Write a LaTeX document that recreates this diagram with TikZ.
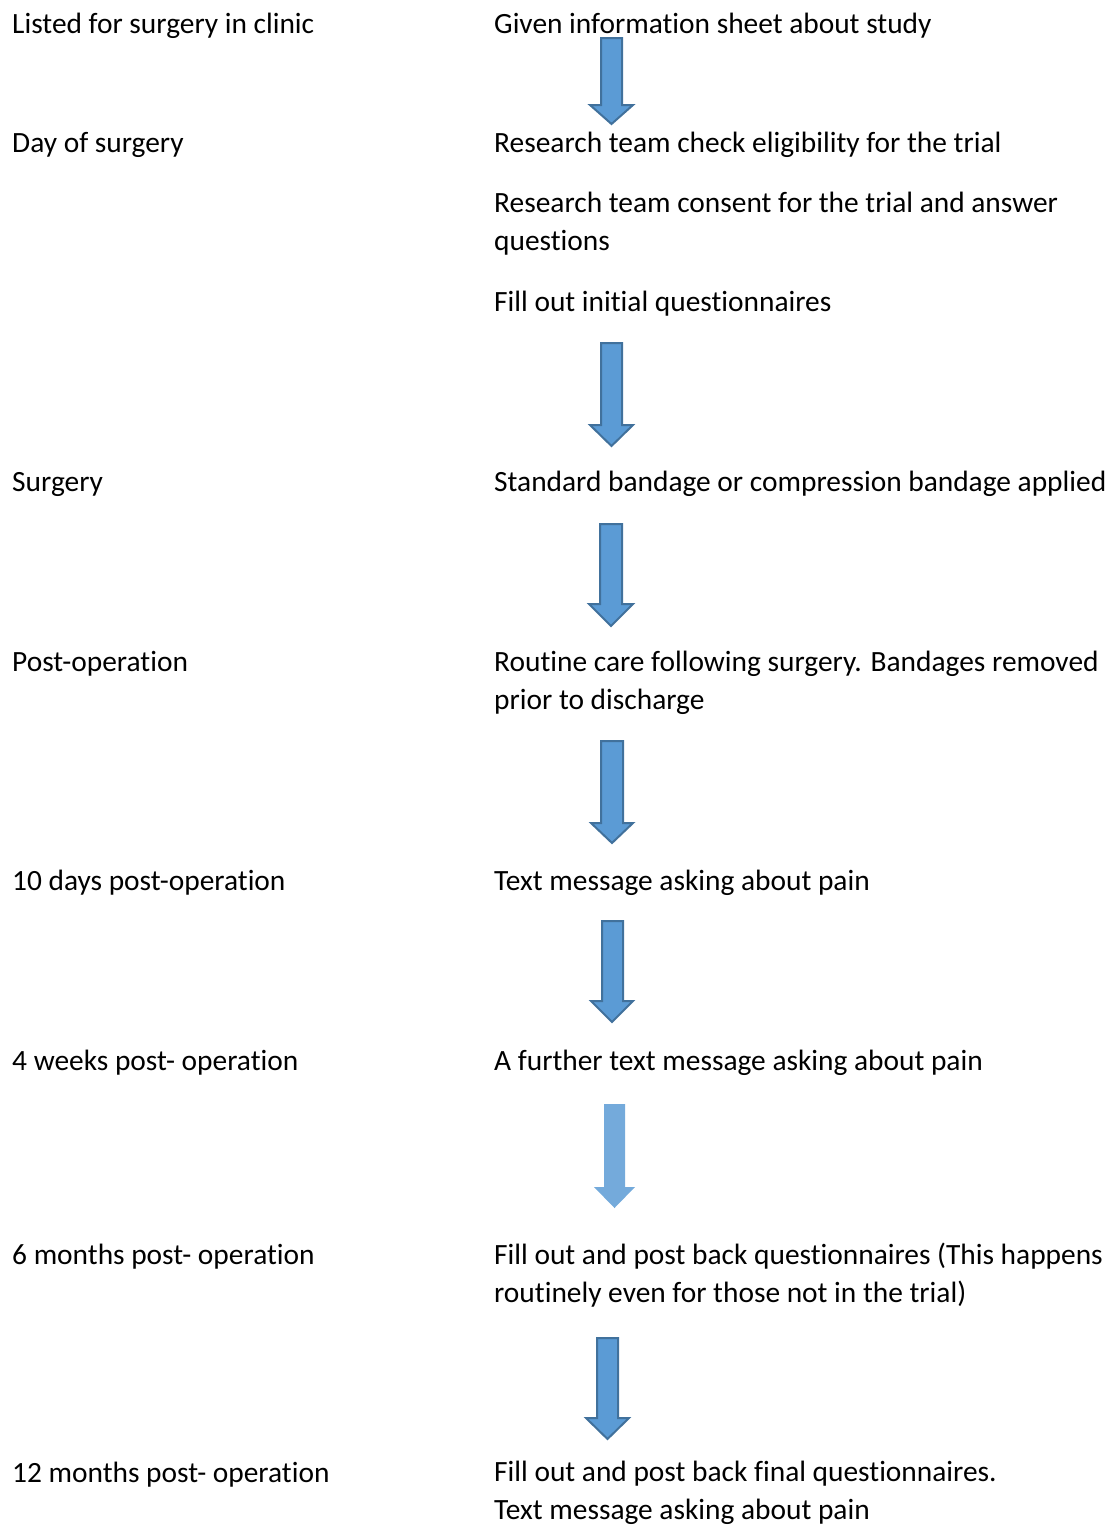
\documentclass[tikz,border=0pt]{standalone}
\usepackage{fontspec}
\setmainfont{Carlito}[Ligatures={NoCommon}]
\usepackage{tikz}
\definecolor{arrowfill}{HTML}{5B9BD5}
\definecolor{arrowline}{HTML}{41719C}

\begin{document}
\begin{tikzpicture}[x=1pt,y=-1pt,
  step label/.style={anchor=base west,inner sep=0pt,align=left,
    font=\fontsize{29.4}{38}\selectfont},
  block arrow/.style={fill=arrowfill,draw=arrowline,line width=2pt,line join=miter}]
  \useasboundingbox (0,0) rectangle (1112,1526);
  \node[step label] (l1) at (12,33) {Listed for surgery in clinic};
  \node[step label] (l2) at (12,152) {Day of surgery};
  \node[step label] (l3) at (12,491) {Surgery};
  \node[step label] (l4) at (12,671) {Post-operation};
  \node[step label] (l5) at (12,890) {10 days post-operation};
  \node[step label] (l6) at (12,1070) {4 weeks post- operation};
  \node[step label] (l7) at (12,1264) {6 months post- operation};
  \node[step label] (l8) at (12,1482) {12 months post- operation};
  \node[step label] (r1) at (494,33) {Given information sheet about study};
  \node[step label] (r2) at (494,152) {Research team check eligibility for the trial};
  \node[step label] (r3) at (494,250) {Research team consent for the trial and answer\\questions};
  \node[step label] (r4) at (494,311) {Fill out initial questionnaires};
  \node[step label] (r5) at (494,491) {Standard bandage or compression bandage applied};
  \node[step label] (r6) at (494,709) {Routine care following surgery. Bandages removed\\prior to discharge};
  \node[step label] (r7) at (494,890) {Text message asking about pain};
  \node[step label] (r8) at (494,1070) {A further text message asking about pain};
  \node[step label] (r9) at (494,1302) {Fill out and post back questionnaires (This happens\\routinely even for those not in the trial)};
  \node[step label] (r10) at (494,1519) {Fill out and post back final questionnaires.\\Text message asking about pain};
  \draw[block arrow]
  (601,38) -- (622,38) -- (622,105) -- (633,105)
  -- (611.5,124) -- (590,105) -- (601,105) -- cycle;
  \draw[block arrow]
  (601,343) -- (622,343) -- (622,425) -- (633,425)
  -- (611.5,446) -- (590,425) -- (601,425) -- cycle;
  \draw[block arrow]
  (600,524) -- (622,524) -- (622,604) -- (633,604)
  -- (611,626) -- (589,604) -- (600,604) -- cycle;
  \draw[block arrow]
  (601,741) -- (623,741) -- (623,823) -- (633,823)
  -- (612,843) -- (591,823) -- (601,823) -- cycle;
  \draw[block arrow]
  (602,921) -- (623,921) -- (623,1001) -- (633,1001)
  -- (612,1022) -- (591,1001) -- (602,1001) -- cycle;
  \fill[arrowfill!85]
  (604,1104) -- (625,1104) -- (625,1187) -- (635,1187)
  -- (614.5,1208) -- (594,1187) -- (604,1187) -- cycle;
  \draw[block arrow]
  (597,1338) -- (618,1338) -- (618,1418) -- (629,1418)
  -- (607.5,1439) -- (586,1418) -- (597,1418) -- cycle;
\end{tikzpicture}
\end{document}
